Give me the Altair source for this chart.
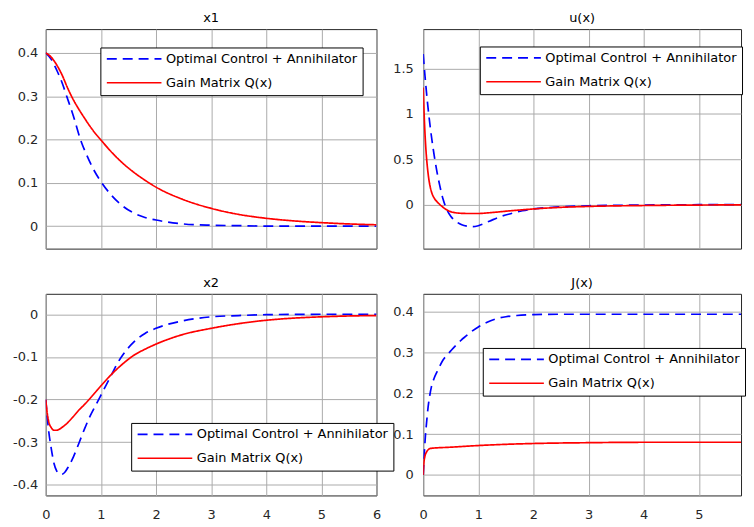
import altair as alt
import pandas as pd

OPT = "Optimal Control + Annihilator"
GAIN = "Gain Matrix Q(x)"

# ---- x1 ----
t_x1_opt = [0, 0.1, 0.2, 0.3, 0.38, 0.5, 0.63, 0.75, 0.85, 1.0, 1.2, 1.4, 1.6, 1.8, 2.0, 2.5, 3.0, 3.5, 4.0, 5.0, 6.0]
x1_opt = [0.4, 0.385, 0.36, 0.33, 0.30, 0.255, 0.20, 0.162, 0.135, 0.103, 0.07, 0.046, 0.03, 0.02, 0.014, 0.005, 0.002, 0.001, 0.0, 0.0, 0.0]
t_x1_gain = [0, 0.1, 0.2, 0.3, 0.4, 0.5, 0.6, 0.7, 0.8, 0.9, 1.0, 1.2, 1.4, 1.6, 1.8, 2.0, 2.5, 3.0, 3.5, 4.0, 4.5, 5.0, 5.5, 6.0]
x1_gain = [0.4, 0.39, 0.372, 0.348, 0.318, 0.292, 0.27, 0.25, 0.231, 0.214, 0.199, 0.17, 0.145, 0.124, 0.106, 0.09, 0.061, 0.041, 0.027, 0.018, 0.012, 0.008, 0.005, 0.003]

# ---- u(x) ----
t_u_opt = [0, 0.05, 0.1, 0.15, 0.2, 0.25, 0.3, 0.36, 0.42, 0.5, 0.6, 0.7, 0.8, 0.9, 1.0, 1.2, 1.4, 1.6, 1.8, 2.0, 2.5, 3.0, 3.5, 4.0, 5.0, 6.0]
u_opt = [1.66, 1.3, 1.0, 0.75, 0.54, 0.36, 0.21, 0.06, -0.045, -0.13, -0.19, -0.225, -0.24, -0.245, -0.235, -0.185, -0.135, -0.1, -0.07, -0.05, -0.027, -0.015, -0.01, -0.007, -0.003, -0.001]
t_u_gain = [0, 0.02, 0.04, 0.06, 0.08, 0.1, 0.15, 0.2, 0.25, 0.3, 0.4, 0.5, 0.6, 0.8, 1.0, 1.2, 1.5, 2.0, 2.5, 3.0, 4.0, 5.0, 6.0]
u_gain = [1.29, 0.95, 0.7, 0.52, 0.39, 0.29, 0.14, 0.07, 0.03, 0.0, -0.05, -0.08, -0.093, -0.1, -0.1, -0.092, -0.075, -0.05, -0.032, -0.022, -0.012, -0.007, -0.004]

# ---- x2 ----
t_x2_opt = [0, 0.05, 0.1, 0.15, 0.2, 0.25, 0.3, 0.35, 0.4, 0.5, 0.6, 0.7, 0.8, 0.9, 1.0, 1.1, 1.2, 1.3, 1.4, 1.6, 1.8, 2.0, 2.5, 3.0, 3.5, 4.0, 5.0, 6.0]
x2_opt = [-0.2, -0.27, -0.315, -0.35, -0.368, -0.375, -0.375, -0.37, -0.36, -0.335, -0.303, -0.27, -0.24, -0.215, -0.19, -0.165, -0.14, -0.115, -0.095, -0.065, -0.045, -0.033, -0.015, -0.006, -0.003, -0.001, 0.0, 0.0]
t_x2_gain = [0, 0.03, 0.06, 0.1, 0.15, 0.2, 0.3, 0.4, 0.5, 0.6, 0.7, 0.8, 0.9, 1.0, 1.2, 1.4, 1.6, 1.8, 2.0, 2.5, 3.0, 3.5, 4.0, 4.5, 5.0, 5.5, 6.0]
x2_gain = [-0.2, -0.235, -0.255, -0.266, -0.272, -0.272, -0.265, -0.254, -0.24, -0.225, -0.212, -0.198, -0.183, -0.168, -0.14, -0.116, -0.096, -0.082, -0.07, -0.047, -0.033, -0.022, -0.014, -0.009, -0.006, -0.004, -0.003]

# ---- J(x) ----
t_J_opt = [0, 0.01, 0.02, 0.04, 0.06, 0.09, 0.12, 0.15, 0.2, 0.25, 0.3, 0.36, 0.45, 0.51, 0.6, 0.69, 0.78, 0.87, 1.0, 1.15, 1.3, 1.5, 1.7, 2.0, 2.5, 3.0, 4.0, 5.0, 6.0]
J_opt = [0, 0.03, 0.053, 0.095, 0.126, 0.167, 0.195, 0.216, 0.237, 0.252, 0.266, 0.281, 0.296, 0.305, 0.318, 0.33, 0.34, 0.35, 0.362, 0.373, 0.381, 0.387, 0.39, 0.392, 0.393, 0.393, 0.393, 0.393, 0.393]
t_J_gain = [0, 0.01, 0.03, 0.06, 0.1, 0.13, 0.5, 1.0, 1.5, 2.0, 3.0, 4.0, 5.0, 6.0]
J_gain = [0, 0.025, 0.045, 0.056, 0.063, 0.065, 0.068, 0.072, 0.075, 0.077, 0.079, 0.08, 0.08, 0.08]

# ticks
x_ticks_left = [0, 1, 2, 3, 4, 5, 6]
x_ticks_right = [0, 1, 2, 3, 4, 5]
y_ticks_x1 = [0, 0.1, 0.2, 0.3, 0.4]
y_ticks_u = [0, 0.5, 1, 1.5]
y_ticks_x2 = [-0.4, -0.3, -0.2, -0.1, 0]
y_ticks_J = [0, 0.1, 0.2, 0.3, 0.4]

FONT = "DejaVu Sans"
PX_PER_UNIT = 333 / 6.0
RIGHT_W = 320


def panel(title, t_opt, y_opt, t_gain, y_gain, xdom, xticks, ydom, yticks,
          width, height, show_x, lx, ly, ypad):
    df = pd.DataFrame({
        "t": t_opt + t_gain,
        "v": y_opt + y_gain,
        "s": [OPT] * len(t_opt) + [GAIN] * len(t_gain),
    })
    leg = alt.Legend(title=None, orient="none", legendX=lx, legendY=ly,
                     fillColor="white", strokeColor="black", padding=5,
                     symbolType="M-1,0H10", symbolSize=100, symbolStrokeWidth=1.6,
                     labelOffset=48, rowPadding=10, labelFontSize=13, labelFont=FONT,
                     labelColor="#000000", labelLimit=400, symbolFillColor="transparent")
    return alt.Chart(df, title=alt.Title(title, font=FONT, fontSize=13, fontWeight="normal",
                                         color="#000000", offset=4)).mark_line(
        clip=True, strokeWidth=1.7, interpolate="monotone"
    ).encode(
        x=alt.X("t:Q", title=None,
                scale=alt.Scale(domain=xdom, nice=False, zero=False),
                axis=alt.Axis(values=xticks, labels=show_x, labelFlush=False,
                              labelPadding=13, labelExpr="toString(datum.value)")),
        y=alt.Y("v:Q", title=None,
                scale=alt.Scale(domain=ydom, nice=False, zero=False),
                axis=alt.Axis(values=yticks, labelPadding=ypad,
                              labelExpr="toString(datum.value)")),
        color=alt.Color("s:N", scale=alt.Scale(domain=[OPT, GAIN], range=["#0000ff", "#ff0000"]),
                        legend=leg),
        strokeDash=alt.StrokeDash("s:N", scale=alt.Scale(domain=[OPT, GAIN], range=[[10, 6], [1, 0]]),
                                  legend=leg),
    ).properties(width=width, height=height)


right_dom = [0, RIGHT_W / PX_PER_UNIT]

p1 = panel("x1", t_x1_opt, x1_opt, t_x1_gain, x1_gain, [0, 6], x_ticks_left,
           [-0.052, 0.455], y_ticks_x1, 333, 221, False, 55, 18.5, 8)
p2 = panel("u(x)", t_u_opt, u_opt, t_u_gain, u_gain, right_dom, x_ticks_right,
           [-0.488, 1.936], y_ticks_u, RIGHT_W, 221, False, 57, 17.5, 10)
p3 = panel("x2", t_x2_opt, x2_opt, t_x2_gain, x2_gain, [0, 6], x_ticks_left,
           [-0.425, 0.048], y_ticks_x2, 333, 203, True, 86, 130, 8)
p4 = panel("J(x)", t_J_opt, J_opt, t_J_gain, J_gain, right_dom, x_ticks_right,
           [-0.05, 0.443], y_ticks_J, RIGHT_W, 203, True, 60, 54.5, 10)

chart = alt.concat(
    p1, p2, p3, p4, columns=2,
    spacing={"row": 45.5, "column": 47}, bounds="flush", align="each"
).resolve_scale(
    color="independent", strokeDash="independent"
).resolve_legend(
    color="independent", strokeDash="independent"
).properties(
    padding={"left": 4, "top": 1.5, "right": 0, "bottom": 0},
    background="white",
).configure_view(
    stroke="#262626", strokeWidth=1
).configure_axis(
    grid=True, gridColor="#aaaaaa", gridWidth=1, domain=False, ticks=False,
    labelFont=FONT, labelFontSize=13, labelColor="#262626"
)

chart.save("out.html", embed_options={"renderer": "svg", "actions": False})
